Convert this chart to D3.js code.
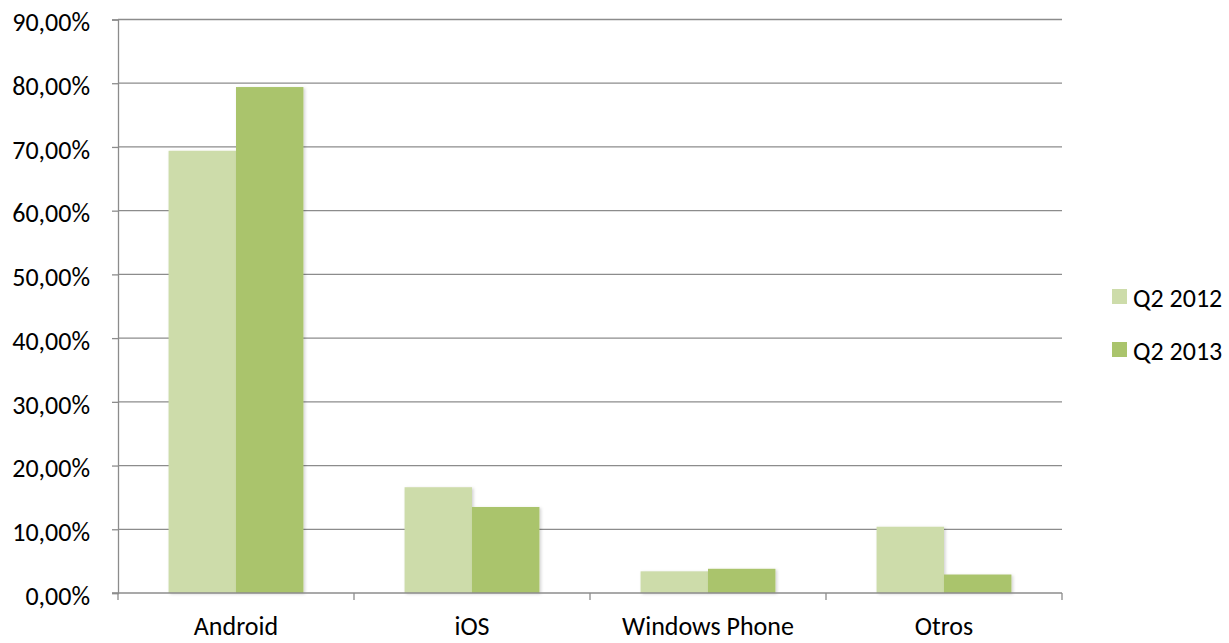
<!DOCTYPE html>
<html>
<head>
<meta charset="utf-8">
<script src="https://cdn.jsdelivr.net/npm/d3@7"></script>
<style>
  body{margin:0;background:#fff;}
  text{font-family:Carlito,"Open Sans","Noto Sans",sans-serif;fill:#000;}
</style>
</head>
<body>
<div id="chart"></div>
<script>
// data
let categories=["Android","iOS","Windows Phone","Otros"]
let seriesNames=["Q2 2012","Q2 2013"]
let q2_2012=[69.4,16.6,3.4,10.4]
let q2_2013=[79.4,13.5,3.8,2.9]
let yTicks=[0,10,20,30,40,50,60,70,80,90]
let colors=["#cddcaa","#aac46c"]

let width=1229, height=643
let mLeft=118, mRight=1062, mTop=19.5, mBottom=593

let svg=d3.select("#chart").append("svg")
  .attr("width",width).attr("height",height)

// soft shadow like the office chart
let defs=svg.append("defs")
let f=defs.append("filter").attr("id","sh").attr("x","-10%").attr("y","-10%").attr("width","130%").attr("height","130%")
f.append("feDropShadow").attr("dx",1.5).attr("dy",1).attr("stdDeviation",1.5).attr("flood-color","#000").attr("flood-opacity",0.18)

let x=d3.scaleBand().domain(categories).range([mLeft,mRight]).paddingInner(0).paddingOuter(0)
let x1=d3.scaleBand().domain(seriesNames).range([0,x.bandwidth()]).paddingInner(0).paddingOuter(0.75)
let y=d3.scaleLinear().domain([0,90]).range([mBottom,mTop])

//gridlines
svg.append("g").selectAll("line").data(yTicks.filter(d=>d>0)).enter().append("line")
  .attr("x1",mLeft).attr("x2",mRight)
  .attr("y1",d=>y(d)).attr("y2",d=>y(d))
  .attr("stroke","#8c8c8c").attr("stroke-width",1.3)

//y axis
let yAxis=d3.axisLeft(y).tickValues(yTicks).tickSize(6)
  .tickFormat(d=>d3.format(".2f")(d).replace(".",",")+"%")
let ya=svg.append("g").attr("transform",`translate(${mLeft},0)`).call(yAxis)
ya.select(".domain").attr("stroke","#8c8c8c").attr("stroke-width",1.3)
ya.selectAll(".tick line").attr("stroke","#8c8c8c").attr("stroke-width",1.3)
ya.selectAll("text").style("font-size","26px").attr("x",-28).attr("dy","0.43em")

//bars
let data=categories.map((c,i)=>({cat:c,vals:[q2_2012[i],q2_2013[i]]}))
let groups=svg.append("g").selectAll("g").data(data).enter().append("g")
  .attr("transform",d=>`translate(${x(d.cat)},0)`)
groups.selectAll("rect").data(d=>d.vals.map((v,j)=>({k:seriesNames[j],v:v,j:j}))).enter().append("rect")
  .attr("x",d=>x1(d.k))
  .attr("width",x1.bandwidth())
  .attr("y",d=>y(d.v))
  .attr("height",d=>mBottom-y(d.v))
  .attr("fill",d=>colors[d.j])
  .attr("filter","url(#sh)")

//x axis
let xAxis=d3.axisBottom(x).tickSize(0)
let xa=svg.append("g").attr("transform",`translate(0,${mBottom})`).call(xAxis)
xa.select(".domain").remove()
xa.selectAll("text").style("font-size","26px").attr("y",42).attr("dy","0")
svg.append("line").attr("x1",mLeft-6).attr("x2",mRight).attr("y1",mBottom).attr("y2",mBottom)
  .attr("stroke","#8c8c8c").attr("stroke-width",1.3)
svg.append("g").selectAll("line").data(d3.range(categories.length+1)).enter().append("line")
  .attr("x1",i=>mLeft+i*x.bandwidth()).attr("x2",i=>mLeft+i*x.bandwidth())
  .attr("y1",mBottom).attr("y2",mBottom+7)
  .attr("stroke","#8c8c8c").attr("stroke-width",1.3)

//legend
let lg=svg.append("g").selectAll("g").data(seriesNames).enter().append("g")
  .attr("transform",(d,i)=>`translate(1112,${289+i*53})`)
lg.append("rect").attr("width",15).attr("height",15).attr("fill",(d,i)=>colors[i])
lg.append("text").attr("x",21).attr("y",17.5).style("font-size","26px").text(d=>d)
</script>
</body>
</html>
